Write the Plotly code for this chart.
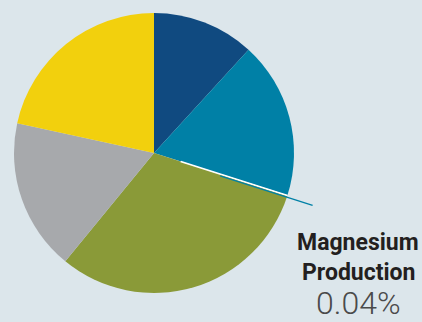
import math
import plotly.graph_objects as go

# ---- data (clockwise from 12 o'clock) ----
labels = ["Sector A", "Sector B", "Magnesium Production", "Sector C", "Sector D", "Sector E"]
values = [11.8, 18.1, 0.04, 31.0, 17.5, 21.6]
colors = ["#104a80", "#0080a6", "#ffffff", "#8a9a38", "#a7a9ac", "#f2d00d"]
callout_label = ["Magnesium", "Production"]
callout_value = "0.04%"
callout_index = 2

W, H = 422, 322
BG = "#dce6eb"

# pie geometry in pixels
cx, cy, R = 154, 153, 140
dom_x = [(cx - R) / W, (cx + R) / W]
dom_y = [1 - (cy + R) / H, 1 - (cy - R) / H]

fig = go.Figure(go.Pie(
    labels=labels, values=values, sort=False, direction="clockwise", rotation=0,
    marker=dict(colors=colors, line=dict(width=0)),
    textinfo="none", hoverinfo="label+percent", showlegend=False,
    domain=dict(x=dom_x, y=dom_y),
))

# angle of the tiny slice, derived from data
total = sum(values)
start = sum(values[:callout_index]) / total * 360
ang = math.radians(start + values[callout_index] / total * 360 / 2)

def pt(r, off=0.0):
    x = cx + r * math.sin(ang) - off * math.cos(ang)
    y = cy - r * math.cos(ang) - off * math.sin(ang)
    return x / W, 1 - y / H

x0, y0 = pt(28)
x1, y1 = pt(R)
fig.add_shape(type="line", xref="paper", yref="paper", x0=x0, y0=y0, x1=x1, y1=y1,
              line=dict(color="white", width=1.8))
x0, y0 = pt(70, -1.7)
x1, y1 = pt(167, -1.7)
fig.add_shape(type="line", xref="paper", yref="paper", x0=x0, y0=y0, x1=x1, y1=y1,
              line=dict(color="#0080a6", width=1.3))

tx = 358 / W
fig.add_annotation(x=tx, y=1 - 242 / H, xref="paper", yref="paper", showarrow=False,
                   text="<b>%s</b>" % callout_label[0], xanchor="center", yanchor="middle",
                   font=dict(family="Roboto", size=23, color="#231f20"))
fig.add_annotation(x=tx, y=1 - 272 / H, xref="paper", yref="paper", showarrow=False,
                   text="<b>%s</b>" % callout_label[1], xanchor="center", yanchor="middle",
                   font=dict(family="Roboto", size=23, color="#231f20"))
fig.add_annotation(x=tx, y=1 - 303 / H, xref="paper", yref="paper", showarrow=False,
                   text=callout_value, xanchor="center", yanchor="middle",
                   font=dict(family="Roboto", size=32, color="#4a4a4a", weight=300))

fig.update_layout(width=W, height=H, margin=dict(l=0, r=0, t=0, b=0),
                  paper_bgcolor=BG, plot_bgcolor=BG)
fig.write_html("out.html", config={"displayModeBar": False},
               post_script="document.body.style.margin='0';document.body.style.overflow='hidden';")
